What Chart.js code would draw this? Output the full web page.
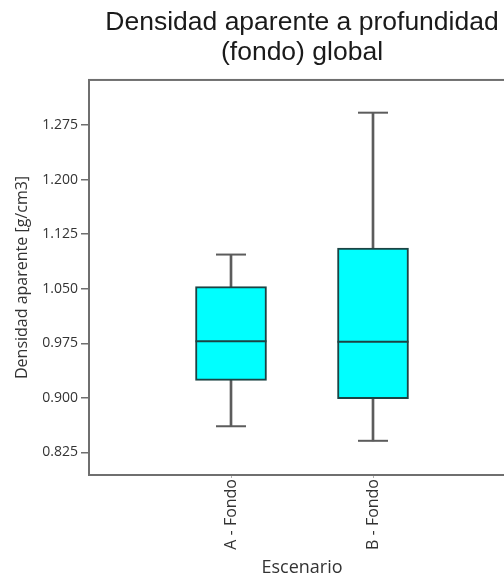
<!DOCTYPE html>
<html>
<head>
<meta charset="utf-8">
<script src="https://cdn.jsdelivr.net/npm/chart.js@4/dist/chart.umd.min.js"></script>
<style>
    html, body { margin: 0; padding: 0; background: #ffffff; overflow: hidden; }
    canvas { display: block; }
</style>
</head>
<body>
<canvas id="boxplot" width="520" height="581"></canvas>
<script>
// datos
var categorias = [ "A - Fondo", "B - Fondo" ],
    minimos    = [ 0.861, 0.841 ],
    q1         = [ 0.924, 0.899 ],
    medianas   = [ 0.978, 0.977 ],
    q3         = [ 1.053, 1.106 ],
    maximos    = [ 1.097, 1.292 ],
    ticksY     = [ 0.825, 0.900, 0.975, 1.050, 1.125, 1.200, 1.275 ];

var posiciones = categorias.map( function( c, i ){ return i + 1; } );

var COLOR_CAJA  = "#00ffff",
    BORDE_CAJA  = "#1b4444",
    COLOR_BIGOTE = "#5c5c5c",
    COLOR_MARCO = "#6f6f6f",
    COLOR_TEXTO = "#333333";

var marco = {
    id: "marco",
    beforeDatasetsDraw: function( chart ) {
        var a = chart.chartArea, ctx = chart.ctx;
        ctx.save();
        ctx.strokeStyle = COLOR_MARCO;
        ctx.lineWidth = 2;
        ctx.strokeRect( a.left, a.top, a.right - a.left, a.bottom - a.top );
        ctx.restore();
    }
};

function puntos( valores ) {
    return valores.map( function( v, i ){ return { x: posiciones[i], y: v }; } );
}

function rangos( bajos, altos ) {
    return bajos.map( function( v, i ){ return { x: posiciones[i], y: [ v, altos[i] ] }; } );
}

new Chart( document.getElementById( "boxplot" ).getContext( "2d" ), {
    type: "bar",
    data: {
        datasets: [
            {
                label: "bigote",
                data: rangos( minimos, maximos ),
                backgroundColor: COLOR_BIGOTE,
                borderWidth: 0,
                barThickness: 2,
                grouped: false,
                order: 3
            },
            {
                label: "caja",
                data: rangos( q1, q3 ),
                backgroundColor: COLOR_CAJA,
                borderColor: BORDE_CAJA,
                borderWidth: 2,
                borderSkipped: false,
                barThickness: 71,
                grouped: false,
                order: 2
            },
            {
                type: "scatter",
                label: "mediana",
                data: puntos( medianas ),
                pointStyle: "line",
                pointRadius: 35.5,
                borderColor: BORDE_CAJA,
                borderWidth: 2,
                order: 1
            },
            {
                type: "scatter",
                label: "minimo",
                data: puntos( minimos ),
                pointStyle: "line",
                pointRadius: 15,
                borderColor: COLOR_BIGOTE,
                borderWidth: 2,
                order: 1
            },
            {
                type: "scatter",
                label: "maximo",
                data: puntos( maximos ),
                pointStyle: "line",
                pointRadius: 15,
                borderColor: COLOR_BIGOTE,
                borderWidth: 2,
                order: 1
            }
        ]
    },
    options: {
        responsive: false,
        animation: false,
        events: [],
        layout: { autoPadding: false, padding: { left: 0, right: 5, top: 0, bottom: 0 } },
        plugins: {
            legend: { display: false },
            tooltip: { enabled: false },
            title: {
                display: true,
                fullSize: false,
                text: [ "Densidad aparente a profundidad", "(fondo) global" ],
                color: "#1a1a1a",
                font: { family: "'Liberation Sans', Arial, sans-serif", size: 26.5, weight: "normal", lineHeight: 1.15 },
                padding: { top: 7, bottom: 12 }
            }
        },
        scales: {
            x: {
                type: "linear",
                min: 0,
                max: 3,
                offset: false,
                afterBuildTicks: function( s ) {
                    s.ticks = posiciones.map( function( p ){ return { value: p }; } );
                },
                afterFit: function( s ) {
                    s.height = 106;
                    s.paddingLeft = 0;
                    s.paddingRight = 0;
                },
                border: { display: false },
                grid: { display: true, offset: false, drawOnChartArea: false, drawTicks: true, tickLength: 3, color: "#b0b0b0" },
                ticks: {
                    autoSkip: false,
                    minRotation: 90,
                    maxRotation: 90,
                    padding: 1,
                    color: COLOR_TEXTO,
                    font: { family: "'Open Sans', sans-serif", size: 16 },
                    callback: function( v, i ){ return categorias[i]; }
                },
                title: {
                    display: true,
                    text: "Escenario",
                    color: COLOR_TEXTO,
                    font: { family: "'Open Sans', sans-serif", size: 18 },
                    padding: { top: 0, bottom: 2 }
                }
            },
            y: {
                min: 0.794,
                max: 1.337,
                afterBuildTicks: function( s ) {
                    s.ticks = ticksY.map( function( t ){ return { value: t }; } );
                },
                afterFit: function( s ) { s.width = 89; },
                border: { display: false },
                grid: { display: true, drawOnChartArea: false, drawTicks: true, tickLength: 8, color: COLOR_MARCO, lineWidth: 1.5 },
                ticks: {
                    padding: 3,
                    color: COLOR_TEXTO,
                    font: { family: "'Open Sans', sans-serif", size: 14 },
                    callback: function( v ){ return v.toFixed( 3 ); }
                },
                title: {
                    display: true,
                    text: "Densidad aparente [g/cm3]",
                    color: COLOR_TEXTO,
                    font: { family: "'Open Sans', sans-serif", size: 16 },
                    padding: { top: 13, bottom: 0 }
                }
            }
        }
    },
    plugins: [ marco ]
} );
</script>
</body>
</html>
